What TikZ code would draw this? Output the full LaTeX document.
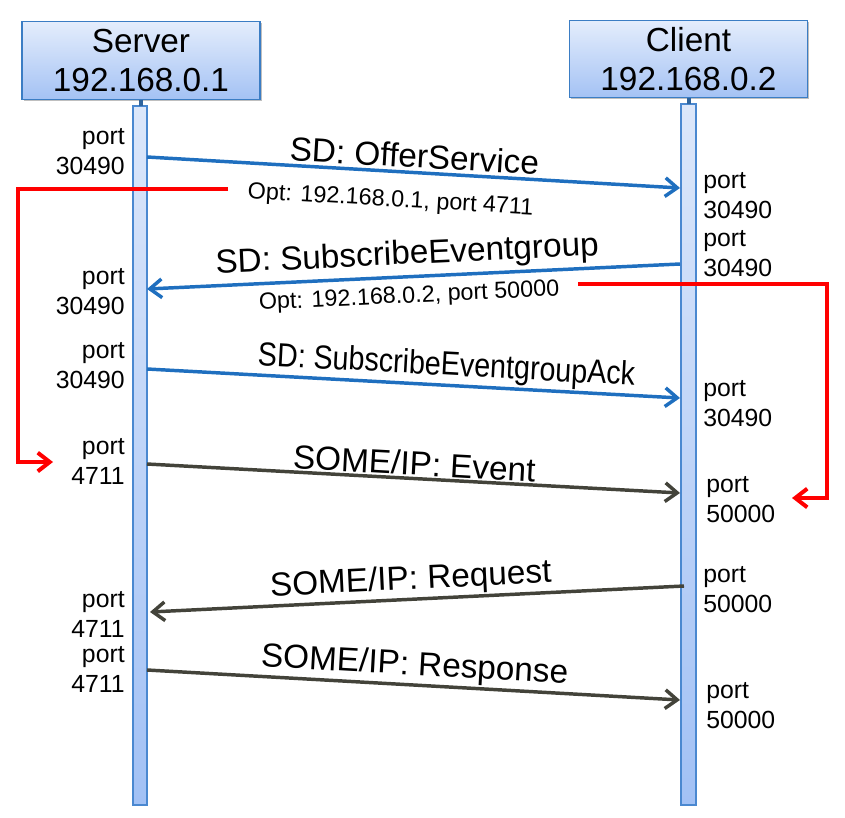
\documentclass[tikz,border=0pt]{standalone}
\usepackage{fontspec}
\setmainfont{Liberation Sans}
\newfontfamily\narrowsans[FakeStretch=0.86]{Liberation Sans}
\usetikzlibrary{arrows.meta,shadows}

\definecolor{sdblue}{HTML}{1F6FBF}
\definecolor{ipgray}{HTML}{43433A}
\definecolor{optred}{HTML}{FF0000}
\definecolor{hostedge}{HTML}{3B7DC4}
\definecolor{hosttop}{HTML}{E4EDFC}
\definecolor{hostbot}{HTML}{A4C2F4}
\definecolor{baredge}{HTML}{4A88D0}
\definecolor{bartop}{HTML}{DCE7FA}
\definecolor{barbot}{HTML}{A2C1F5}

\tikzset{
  host/.style={draw=hostedge, line width=1pt, top color=hosttop, bottom color=hostbot,
    minimum width=178.5pt, minimum height=58pt, align=center, inner sep=0pt,
    font=\fontsize{25}{29}\selectfont,
    drop shadow={opacity=0.25, shadow xshift=1.2pt, shadow yshift=-1.2pt, fill=black}},
  lifeline/.style={draw=baredge, line width=1pt, top color=bartop, bottom color=barbot},
  stem/.style={draw=hostedge!80!black, line width=3pt},
  sdmsg/.style={draw=sdblue, line width=2.6pt, -{Straight Barb[length=9pt,width=14pt]}},
  ipmsg/.style={draw=ipgray, line width=2.6pt, -{Straight Barb[length=9pt,width=14pt]}},
  optlink/.style={draw=optred, line width=3pt, -{Straight Barb[length=9pt,width=14pt]}},
  msglabel/.style={sloped, anchor=south, inner sep=0pt, text=black,
    font=\fontsize{25}{29}\selectfont},
  optlabel/.style={sloped, anchor=north, inner sep=0pt, text=black,
    font=\fontsize{17.5}{21}\selectfont},
  portL/.style={anchor=base east, align=right, inner sep=0pt,
    font=\fontsize{18.6}{22.5}\selectfont},
  portR/.style={anchor=base west, align=left, inner sep=0pt,
    font=\fontsize{18.6}{22.5}\selectfont}
}

\begin{document}
\begin{tikzpicture}[x=0.75pt,y=-0.75pt]
  \useasboundingbox (0,0) rectangle (845,817);

  % hosts and lifelines
  \draw[lifeline] (133,106) rectangle (147,805);
  \draw[lifeline] (681,104) rectangle (696,805);
  \node[host] (srv) at (141,60.5) {Server\\192.168.0.1};
  \node[host] (cli) at (688.5,59) {Client\\192.168.0.2};
  \draw[stem] (srv.south) -- (141,106);
  \draw[stem] (cli.south) -- (688.5,104);

  % ports at the server
  \node[portL] (sp1) at (125,174) {port\\30490};
  \node[portL] (sp2) at (125,314) {port\\30490};
  \node[portL] (sp3) at (125,388) {port\\30490};
  \node[portL] (sp4) at (125,484) {port\\4711};
  \node[portL] (sp5) at (125,637) {port\\4711};
  \node[portL] (sp6) at (125,692) {port\\4711};

  % ports at the client
  \node[portR] (cp1) at (703,218) {port\\30490};
  \node[portR] (cp2) at (703,276) {port\\30490};
  \node[portR] (cp3) at (703,426) {port\\30490};
  \node[portR] (cp4) at (706,522) {port\\50000};
  \node[portR] (cp5) at (703,612) {port\\50000};
  \node[portR] (cp6) at (706,728) {port\\50000};

  % message ends on the lifelines
  \coordinate (s1) at (147,157); \coordinate (c1) at (680,188);
  \coordinate (c2) at (680,264); \coordinate (s2) at (147,289);
  \coordinate (s3) at (147,369); \coordinate (c3) at (680,398);
  \coordinate (s4) at (147,464); \coordinate (c4) at (680,493);
  \coordinate (c5) at (684,586); \coordinate (s5) at (150,612);
  \coordinate (s6) at (147,670); \coordinate (c6) at (680,700);

  % service discovery
  \draw[sdmsg] (s1) -- node[msglabel, pos=0.5, yshift=2pt] (offer) {SD: OfferService}
    node[optlabel, pos=0.46, yshift=-13pt] (opt1) {Opt: 192.168.0.1, port 4711} (c1);
  \draw[sdmsg] (c2) -- node[msglabel, pos=0.51, yshift=3pt] (sub) {SD: SubscribeEventgroup}
    node[optlabel, pos=0.51, yshift=-6pt] (opt2) {Opt: 192.168.0.2, port 50000} (s2);
  \draw[sdmsg] (s3) -- node[msglabel, pos=0.56, yshift=1pt] (ack)
    {\narrowsans SD: SubscribeEventgroupAck} (c3);

  % SOME/IP traffic
  \draw[ipmsg] (s4) -- node[msglabel, pos=0.5, yshift=1pt] (event) {SOME/IP: Event} (c4);
  \draw[ipmsg] (c5) -- node[msglabel, pos=0.51, yshift=1pt] (req) {SOME/IP: Request} (s5);
  \draw[ipmsg] (s6) -- node[msglabel, pos=0.5, yshift=1pt] (resp) {SOME/IP: Response} (c6);

  % endpoint options point to the event ports
  \coordinate (r1a) at (228,189); \coordinate (r1b) at (53,462);
  \coordinate (r2a) at (578,284); \coordinate (r2b) at (792,498);
  \draw[optlink] (r1a) -- (18,189) |- (r1b);
  \draw[optlink] (r2a) -- (827,284) |- (r2b);
\end{tikzpicture}
\end{document}
